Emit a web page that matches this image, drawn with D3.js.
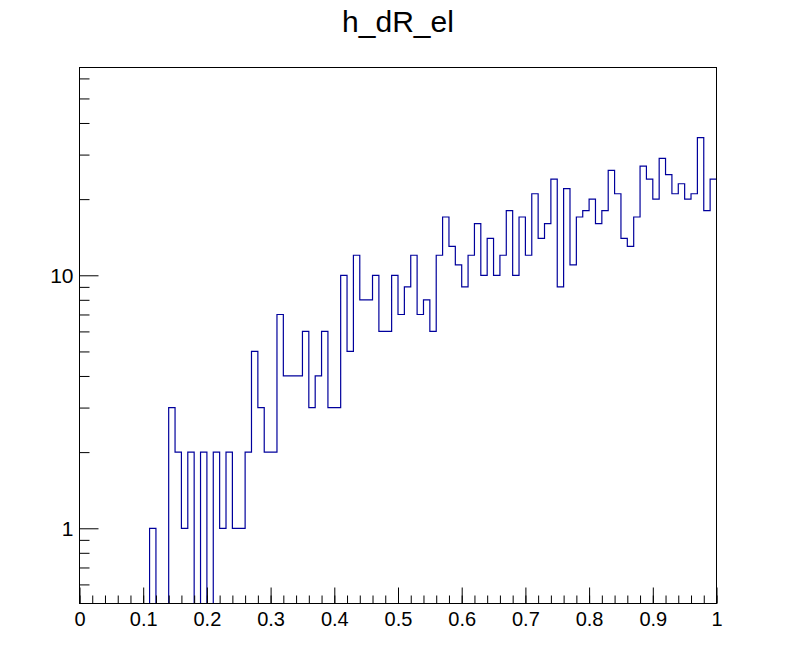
<html lang="en">
<head>
<meta charset="utf-8">
<title>h_dR_el</title>
<script src="https://cdn.jsdelivr.net/npm/d3@7"></script>
<style>
  body { margin: 0; background: #fff; }
  text { font-family: "Liberation Sans", Arial, sans-serif; fill: #000; }
  .axis path.domain { display: none; }
  .axis line { stroke: #000; }
</style>
</head>
<body>
<script>
var w = 796, h = 672

// histogram h_dR_el : 100 bins from 0 to 1, counts per bin
var binLow = 0, binHigh = 1
var counts = [
  0, 0, 0, 0, 0, 0, 0, 0, 0, 0,
  0, 1, 0, 0, 3, 2, 1, 2, 0, 2,
  0, 2, 1, 2, 1, 1, 2, 5, 3, 2,
  2, 7, 4, 4, 4, 6, 3, 4, 6, 3,
  3, 10, 5, 12, 8, 8, 10, 6, 6, 10,
  7, 9, 12, 7, 8, 6, 12, 17, 13, 11,
  9, 12, 16, 10, 14, 10, 12, 18, 10, 17,
  12, 21, 14, 16, 24, 9, 22, 11, 17, 18,
  20, 16, 18, 26, 21, 14, 13, 17, 27, 24,
  20, 29, 25, 21, 23, 20, 21, 35, 18, 24
]

var xMajor = [0, 0.1, 0.2, 0.3, 0.4, 0.5, 0.6, 0.7, 0.8, 0.9, 1]
var xMajorLabels = ["0", "0.1", "0.2", "0.3", "0.4", "0.5", "0.6", "0.7", "0.8", "0.9", "1"]
var xMinor = d3.range(0, 51).map(function(i) { return i / 50 })

var yMajor = [1, 10]
var yMajorLabels = ["1", "10"]
var yMinor = [0.6, 0.7, 0.8, 0.9, 2, 3, 4, 5, 6, 7, 8, 9, 20, 30, 40, 50, 60]
var yRange = [0.5043, 66.27]

var title = "h_dR_el"

// frame edges
var fL = 79.5, fR = 716.5, fT = 67.5, fB = 603.5

var x = d3.scaleLinear().domain([binLow, binHigh]).range([fL, fR])
var y = d3.scaleLog().domain(yRange).range([fB, fT])

var svg = d3.select("body").append("svg")
  .attr("width", w)
  .attr("height", h)

svg.append("rect").attr("width", w).attr("height", h).attr("fill", "#fff")

svg.append("clipPath").attr("id", "frameclip")
  .append("rect")
  .attr("x", fL).attr("y", fT)
  .attr("width", fR - fL).attr("height", fB - fT)

// histogram outline, step after each bin edge
var nb = counts.length
var bw = (binHigh - binLow) / nb
var pts = counts.map(function(c, i) { return [binLow + i * bw, c] })
pts.push([binHigh, counts[nb - 1]])

var line = d3.line()
  .x(function(d) { return x(d[0]) })
  .y(function(d) { return d[1] > 0 ? y(d[1]) : fB + 20 })
  .curve(d3.curveStepAfter)

svg.append("path")
  .attr("clip-path", "url(#frameclip)")
  .attr("d", line(pts))
  .attr("fill", "none")
  .attr("stroke", "#00009c")
  .attr("stroke-width", 1.2)

// axes, ticks pointing into the frame like ROOT
svg.append("g").attr("class", "axis")
  .attr("transform", "translate(0," + fB + ")")
  .call(d3.axisBottom(x).tickValues(xMinor).tickSize(-8).tickFormat(""))

var gx = svg.append("g").attr("class", "axis")
  .attr("transform", "translate(0," + fB + ")")
  .call(d3.axisBottom(x).tickValues(xMajor).tickSize(-16).tickPadding(8)
    .tickFormat(function(d, i) { return xMajorLabels[i] }))
gx.selectAll("text").style("font-size", "20px")

svg.append("g").attr("class", "axis")
  .attr("transform", "translate(" + fL + ",0)")
  .call(d3.axisLeft(y).tickValues(yMinor).tickSize(-10).tickFormat(""))

var gy = svg.append("g").attr("class", "axis")
  .attr("transform", "translate(" + fL + ",0)")
  .call(d3.axisLeft(y).tickValues(yMajor).tickSize(-19).tickPadding(6)
    .tickFormat(function(d, i) { return yMajorLabels[i] }))
gy.selectAll("text").style("font-size", "21px")

svg.selectAll(".axis text")
  .attr("fill", "#000")
  .style("font-family", "'Liberation Sans', Arial, sans-serif")

svg.append("rect")
  .attr("x", fL).attr("y", fT)
  .attr("width", fR - fL).attr("height", fB - fT)
  .attr("fill", "none")
  .attr("stroke", "#000")
  .attr("stroke-width", 1)

svg.append("text")
  .attr("x", 398)
  .attr("y", 32)
  .attr("text-anchor", "middle")
  .style("font-size", "30px")
  .text(title)
</script>
</body>
</html>
